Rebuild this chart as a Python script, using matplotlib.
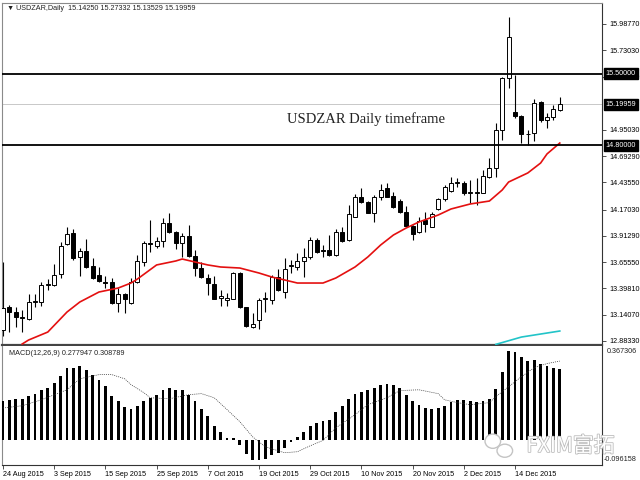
import matplotlib
matplotlib.use("Agg")
import matplotlib.pyplot as plt
import matplotlib.transforms as mtransforms
import matplotlib.patheffects as pe
from matplotlib.patches import Ellipse
import numpy as np

# daily OHLC, USDZAR, 24 Aug 2015 .. 23 Dec 2015
bar_open = [12.991, 13.216, 13.167, 13.118, 13.099, 13.265, 13.265, 13.432, 13.432, 13.539,
            13.833, 13.941, 13.706, 13.765, 13.618, 13.530, 13.461, 13.461, 13.255, 13.344,
            13.255, 13.461, 13.657, 13.843, 13.814, 13.863, 14.039, 13.951, 13.843, 13.912,
            13.716, 13.598, 13.500, 13.442, 13.304, 13.285, 13.295, 13.549, 13.216, 13.020,
            13.089, 13.295, 13.285, 13.510, 13.363, 13.618, 13.608, 13.667, 13.706, 13.872,
            13.774, 13.774, 13.726, 13.951, 13.872, 14.098, 14.293, 14.245, 14.137, 14.293,
            14.382, 14.303, 14.254, 14.147, 14.010, 13.951, 14.068, 14.000, 14.176, 14.274,
            14.352, 14.431, 14.431, 14.333, 14.333, 14.333, 14.489, 14.578, 14.950, 15.459,
            15.126, 15.087, 14.910, 14.920, 15.224, 15.048, 15.077, 15.14250]
bar_high = [13.657, 13.236, 13.216, 13.187, 13.344, 13.344, 13.461, 13.490, 13.637, 13.853,
            14.000, 13.980, 13.794, 13.882, 13.696, 13.608, 13.520, 13.500, 13.402, 13.353,
            13.500, 13.726, 13.863, 14.068, 13.902, 14.088, 14.137, 13.961, 13.941, 14.019,
            13.774, 13.657, 13.539, 13.520, 13.383, 13.353, 13.559, 13.559, 13.220, 13.158,
            13.304, 13.363, 13.530, 13.588, 13.696, 13.677, 13.745, 13.794, 13.902, 13.892,
            13.823, 13.921, 13.980, 14.000, 14.215, 14.323, 14.382, 14.254, 14.313, 14.421,
            14.431, 14.342, 14.274, 14.206, 14.019, 14.098, 14.147, 14.147, 14.280, 14.411,
            14.489, 14.480, 14.450, 14.460, 14.480, 14.558, 14.675, 15.018, 15.469, 16.056,
            15.488, 15.097, 14.950, 15.253, 15.234, 15.116, 15.194, 15.27332]
bar_low = [12.932, 12.971, 13.020, 12.971, 13.089, 13.216, 13.226, 13.383, 13.422, 13.500,
           13.823, 13.677, 13.520, 13.600, 13.495, 13.461, 13.402, 13.250, 13.167, 13.158,
           13.250, 13.455, 13.618, 13.755, 13.794, 13.804, 13.945, 13.784, 13.706, 13.710,
           13.520, 13.500, 13.334, 13.290, 13.226, 13.226, 13.290, 13.206, 13.020, 13.011,
           13.001, 13.167, 13.246, 13.373, 13.304, 13.549, 13.579, 13.510, 13.686, 13.745,
           13.706, 13.716, 13.716, 13.853, 13.863, 14.095, 14.235, 14.132, 14.049, 14.264,
           14.290, 14.186, 14.137, 14.005, 13.872, 13.941, 13.951, 13.995, 14.166, 14.254,
           14.342, 14.391, 14.313, 14.235, 14.215, 14.328, 14.480, 14.489, 14.852, 15.361,
           15.067, 14.822, 14.800, 14.842, 15.028, 14.969, 15.048, 15.13529]
bar_close = [13.206, 13.167, 13.118, 13.109, 13.265, 13.275, 13.432, 13.442, 13.530, 13.814,
             13.931, 13.696, 13.765, 13.608, 13.500, 13.471, 13.451, 13.255, 13.344, 13.295,
             13.461, 13.667, 13.843, 13.833, 13.863, 14.039, 13.951, 13.843, 13.912, 13.716,
             13.598, 13.510, 13.451, 13.295, 13.324, 13.304, 13.549, 13.216, 13.030, 13.050,
             13.285, 13.304, 13.510, 13.383, 13.588, 13.628, 13.667, 13.706, 13.872, 13.755,
             13.765, 13.726, 13.951, 13.863, 14.127, 14.293, 14.245, 14.137, 14.293, 14.362,
             14.293, 14.196, 14.147, 14.010, 13.931, 14.058, 14.029, 14.127, 14.274, 14.391,
             14.431, 14.436, 14.333, 14.338, 14.342, 14.499, 14.578, 14.950, 15.459, 15.860,
             15.087, 14.910, 14.915, 15.214, 15.048, 15.077, 15.155, 15.19959]

# red moving average, read at some bars
ma_idx = [3, 4, 7, 10, 12, 15, 18, 20, 21, 24, 27, 28, 30, 32, 34, 37, 40, 42, 44, 46,
          50, 52, 55, 57, 59, 61, 63, 65, 68, 70, 73, 76, 78, 79, 82, 84, 85, 87]
ma_val = [12.854, 12.893, 12.971, 13.167, 13.265, 13.363, 13.402, 13.451, 13.490, 13.628,
          13.667, 13.686, 13.657, 13.628, 13.608, 13.598, 13.549, 13.510, 13.481, 13.451,
          13.451, 13.500, 13.608, 13.706, 13.823, 13.921, 13.990, 14.049, 14.117, 14.176,
          14.225, 14.254, 14.362, 14.440, 14.529, 14.626, 14.715, 14.822]

# cyan line, bottom right
cyan_idx = [77, 81, 87]
cyan_val = [12.850, 12.922, 12.981]

# MACD(12,26,9) histogram per bar
macd_hist = [0.1518, 0.1584, 0.1612, 0.1612, 0.1740, 0.1818, 0.1947, 0.2040, 0.2235, 0.2519,
             0.2819, 0.2819, 0.2881, 0.2752, 0.2558, 0.2336, 0.2102, 0.1740, 0.1518, 0.1300,
             0.1222, 0.1351, 0.1518, 0.1651, 0.1779, 0.1947, 0.2040, 0.1974, 0.1974, 0.1779,
             0.1518, 0.1222, 0.0934, 0.0572, 0.0311, 0.0093, 0.0093, -0.0167, -0.0518, -0.0751,
             -0.0751, -0.0724, -0.0557, -0.0491, -0.0296, -0.0078, 0.0132, 0.0311, 0.0545, 0.0677,
             0.0767, 0.0806, 0.1090, 0.1324, 0.1612, 0.1818, 0.1869, 0.1974, 0.2040, 0.2168,
             0.2196, 0.2168, 0.2040, 0.1779, 0.1518, 0.1390, 0.1261, 0.1222, 0.1261, 0.1351,
             0.1479, 0.1557, 0.1557, 0.1518, 0.1479, 0.1518, 0.1612, 0.2001, 0.2647, 0.3465,
             0.3426, 0.3247, 0.3075, 0.3114, 0.2986, 0.2881, 0.2819, 0.277947]

sig_idx = [0, 3, 6, 10, 12, 15, 17, 19, 20, 22, 23, 26, 29, 31, 33, 35, 37, 39, 41, 44,
           46, 48, 50, 52, 55, 57, 60, 62, 65, 68, 69, 71, 73, 76, 77, 79, 81, 83, 85, 87]
sig_val = [0.126, 0.135, 0.158, 0.197, 0.240, 0.256, 0.256, 0.240, 0.217, 0.186,
           0.166, 0.162, 0.178, 0.182, 0.166, 0.120, 0.073, 0.014, -0.025, -0.048,
           -0.044, -0.021, 0.000, 0.049, 0.100, 0.139, 0.166, 0.194, 0.197, 0.182,
           0.158, 0.147, 0.139, 0.147, 0.170, 0.209, 0.248, 0.283, 0.299, 0.308789]

price_ticks = [15.98770, 15.73030, 15.47290, 14.95030, 14.69290, 14.43550, 14.17030,
               13.91290, 13.65550, 13.39810, 13.14070, 12.88330]
level_lines = [15.50000, 14.80000]
last_price = 15.19959

date_idx = [0, 8, 16, 24, 32, 40, 48, 56, 64, 72, 80]
date_labels = ["24 Aug 2015", "3 Sep 2015", "15 Sep 2015", "25 Sep 2015", "7 Oct 2015",
               "19 Oct 2015", "29 Oct 2015", "10 Nov 2015", "20 Nov 2015", "2 Dec 2015",
               "14 Dec 2015"]

SMALL = 5.2
FONT = "Liberation Sans"

fig = plt.figure(figsize=(6.4, 4.8), dpi=100)
ax = fig.add_axes([2 / 640, 1 - 345 / 480, 600 / 640, 342 / 480])
ax2 = fig.add_axes([2 / 640, 1 - 465 / 480, 600 / 640, 119 / 480])

o = np.array(bar_open)
h = np.array(bar_high)
l = np.array(bar_low)
c = np.array(bar_close)
x = np.arange(len(c))
up = c >= o

# candles
ax.vlines(x, l, h, color="black", lw=0.8, zorder=2)
body_bot = np.minimum(o, c)
body_h = np.maximum(np.abs(c - o), 0.003)
ax.bar(x, body_h, bottom=body_bot, width=0.6,
       color=np.where(up, "white", "black"), edgecolor="black", linewidth=0.7, zorder=3)

ax.plot(ma_idx, ma_val, color="#e41010", lw=1.2, zorder=4, solid_joinstyle="round")
ax.plot(cyan_idx, cyan_val, color="#22c4c8", lw=1.2, zorder=4)

for lv in level_lines:
    ax.axhline(lv, color="black", lw=1.3, zorder=5)
ax.axhline(last_price, color="#c8c8c8", lw=0.7, zorder=1)

ax.set_xlim(-1 / 6.4, 599 / 6.4)
ax.set_ylim(12.8441, 16.1933)
ax.set_xticks([])
ax.yaxis.tick_right()
ax.set_yticks(price_ticks)
ax.set_yticklabels([f"{v:.5f}" for v in price_ticks])
ax.tick_params(axis="y", length=3, width=0.6, pad=2, labelsize=SMALL, color="#333333")
for lbl in ax.get_yticklabels():
    lbl.set_family(FONT)

# level boxes sit on top of the tick labels, as in the terminal
blend = mtransforms.blended_transform_factory(ax.transAxes, ax.transData)
for lv in level_lines + [last_price]:
    ax.text(1.006, lv, f"{lv:.5f}", transform=blend, ha="left", va="center",
            fontsize=SMALL, family=FONT, color="white", zorder=10, clip_on=False,
            bbox=dict(boxstyle="square,pad=0.25", fc="black", ec="black"))

ax.text(0.475, 0.661, "USDZAR Daily timeframe", transform=ax.transAxes,
        family="Liberation Serif", fontsize=10.5, color="#222222", va="center", ha="left")

for sp in ["left", "top"]:
    ax.spines[sp].set_color("#8a8a8a")
ax.spines["right"].set_color("#333333")
ax.spines["bottom"].set_color("#444444")
ax.spines["bottom"].set_linewidth(1.6)

# MACD
ax2.bar(x, macd_hist, width=0.45, color="black", zorder=3)
ax2.plot(sig_idx, sig_val, color="#333333", lw=0.5, ls=(0, (1.5, 1.5)), zorder=4)
ax2.set_xlim(-1 / 6.4, 599 / 6.4)
ax2.set_ylim(-0.0957, 0.3674)
ax2.set_yticks([])
ax2.set_xticks(date_idx)
ax2.set_xticklabels(date_labels)
ax2.tick_params(axis="x", length=3, width=0.6, pad=1.5, labelsize=SMALL, color="#333333")
for lbl in ax2.get_xticklabels():
    lbl.set_ha("left")
    lbl.set_family(FONT)
ax2.spines["left"].set_color("#8a8a8a")
ax2.spines["top"].set_visible(False)
ax2.spines["right"].set_color("#333333")
ax2.spines["bottom"].set_color("#333333")

ax2.text(1.008, 0.985, "0.367306", transform=ax2.transAxes, ha="left", va="top",
         fontsize=SMALL, family=FONT, color="#222222")
ax2.text(1.003, 0.02, "-0.096158", transform=ax2.transAxes, ha="left", va="bottom",
         fontsize=SMALL, family=FONT, color="#222222")
ax2.text(0.012, 0.94, "MACD(12,26,9) 0.277947 0.308789", transform=ax2.transAxes,
         ha="left", va="center", fontsize=SMALL, family=FONT, color="#222222")

# watermark
ax2.text(0.874, 0.16, "FXIM富拓", transform=ax2.transAxes, ha="left", va="center",
         fontsize=15, family=["Noto Sans CJK SC", "DejaVu Sans"], color="white", zorder=6,
         path_effects=[pe.withStroke(linewidth=1.2, foreground="#bdbdbd")])
ax2.add_patch(Ellipse((0.818, 0.2), 0.026, 0.12, transform=ax2.transAxes,
                      fc="white", ec="#c4c4c4", lw=1.0, zorder=6))
ax2.add_patch(Ellipse((0.838, 0.12), 0.026, 0.11, transform=ax2.transAxes,
                      fc="white", ec="#c4c4c4", lw=1.0, zorder=6))

fig.text(7 / 640, 1 - 8 / 480, "▼ USDZAR,Daily  15.14250 15.27332 15.13529 15.19959",
         ha="left", va="center", fontsize=SMALL, family=[FONT, "DejaVu Sans"], color="#222222")

fig.savefig("out.png", dpi=100)
